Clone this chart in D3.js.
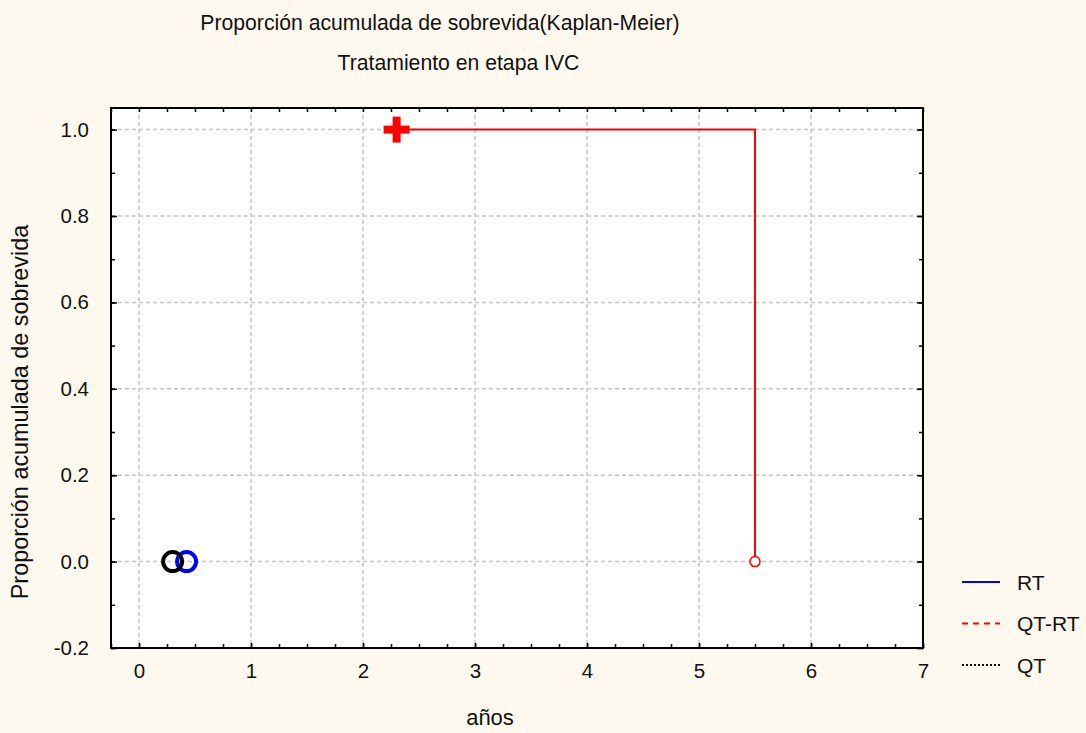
<!DOCTYPE html>
<html>
<head>
<meta charset="utf-8">
<script src="https://cdn.jsdelivr.net/npm/d3@7"></script>
<style>
  html, body { margin: 0; padding: 0; background: #fdf9ee; }
  svg { display: block; }
  text { font-family: "Liberation Sans", Arial, sans-serif; fill: #111; }
</style>
</head>
<body>
<svg id="chart" width="1086" height="733"></svg>
<script>
// Kaplan-Meier data per treatment group
const groups = ["RT", "QT-RT", "QT"];
const groupColors = ["#0000ff", "#ff0000", "#000000"];
const groupDash = ["", "6,5", "2,2"];

// QT-RT survival curve (step): time, proportion
const qtrtTimes = [2.3, 5.5];
const qtrtSurv = [1.0, 0.0];
// censored observation (cross)
const qtrtCensTime = [2.3];
const qtrtCensSurv = [1.0];
// complete (event) observation marker
const qtrtEventTime = [5.5];
const qtrtEventSurv = [0.0];

// single-event groups
const rtEventTime = [0.425];
const rtEventSurv = [0.0];
const qtEventTime = [0.3];
const qtEventSurv = [0.0];

const xTicks = [0, 1, 2, 3, 4, 5, 6, 7];
const yTicks = [-0.2, 0.0, 0.2, 0.4, 0.6, 0.8, 1.0];

const title1 = "Proporción acumulada de sobrevida(Kaplan-Meier)";
const title2 = "Tratamiento en etapa IVC";
const xLabel = "años";
const yLabel = "Proporción acumulada de sobrevida";

const FS = "20.5px";
const svg = d3.select("#chart");
const plot = { left: 111, right: 923, top: 108, bottom: 648 };

const x = d3.scaleLinear().domain([-0.25, 7]).range([plot.left, plot.right]);
const y = d3.scaleLinear().domain([-0.2, 1.05]).range([plot.bottom, plot.top]);

// plot background
svg.append("rect")
  .attr("x", plot.left).attr("y", plot.top)
  .attr("width", plot.right - plot.left).attr("height", plot.bottom - plot.top)
  .attr("fill", "#ffffff");

// grid
const grid = svg.append("g").attr("stroke", "#c4c4c4").attr("stroke-width", 1.5).attr("stroke-dasharray", "4,3");
xTicks.slice(0, -1).forEach(t => {
  grid.append("line").attr("x1", x(t)).attr("x2", x(t)).attr("y1", plot.top).attr("y2", plot.bottom);
});
yTicks.slice(1).forEach(t => {
  grid.append("line").attr("x1", plot.left).attr("x2", plot.right).attr("y1", y(t)).attr("y2", y(t));
});

// axes: inward ticks, major + minor on all four sides
const xMinor = d3.range(-0.25, 7.001, 0.25);
const yMinor = d3.range(-0.2, 1.05, 0.1);
const yFmt = d => d3.format(".1f")(d).replace("−", "-");

function styleAxis(g) {
  g.select(".domain").remove();
  g.selectAll("line").attr("stroke", "#000").attr("stroke-width", 1.5);
  g.selectAll("text").style("font-size", FS).style("font-family", "Liberation Sans, Arial, sans-serif").attr("fill", "#111");
}

svg.append("g").attr("transform", `translate(0,${plot.bottom})`)
  .call(d3.axisBottom(x).tickValues(xMinor).tickSize(-4).tickFormat(""))
  .call(styleAxis);
svg.append("g").attr("transform", `translate(0,${plot.bottom})`)
  .call(d3.axisBottom(x).tickValues(xTicks).tickSize(-5).tickPadding(15).tickFormat(d3.format("d")))
  .call(styleAxis);
svg.append("g").attr("transform", `translate(0,${plot.top})`)
  .call(d3.axisTop(x).tickValues(xMinor).tickSize(-4).tickFormat(""))
  .call(styleAxis);

svg.append("g").attr("transform", `translate(${plot.left},0)`)
  .call(d3.axisLeft(y).tickValues(yMinor).tickSize(-4).tickFormat(""))
  .call(styleAxis);
svg.append("g").attr("transform", `translate(${plot.left},0)`)
  .call(d3.axisLeft(y).tickValues(yTicks).tickSize(-6).tickPadding(22).tickFormat(yFmt))
  .call(styleAxis);
svg.append("g").attr("transform", `translate(${plot.right},0)`)
  .call(d3.axisRight(y).tickValues(yMinor).tickSize(-4).tickFormat(""))
  .call(styleAxis);
svg.append("g").attr("transform", `translate(${plot.right},0)`)
  .call(d3.axisRight(y).tickValues(yTicks).tickSize(-6).tickFormat(""))
  .call(styleAxis);

// frame
svg.append("rect")
  .attr("x", plot.left).attr("y", plot.top)
  .attr("width", plot.right - plot.left).attr("height", plot.bottom - plot.top)
  .attr("fill", "none").attr("stroke", "#000").attr("stroke-width", 2);

// QT-RT step curve
const stepData = [[qtrtTimes[0], qtrtSurv[0]], [qtrtTimes[1], qtrtSurv[0]], [qtrtTimes[1], qtrtSurv[1]]];
svg.append("path")
  .attr("d", d3.line().x(d => x(d[0])).y(d => y(d[1]))(stepData))
  .attr("fill", "none").attr("stroke", groupColors[1]).attr("stroke-width", 2);

// censored cross
qtrtCensTime.forEach((t, i) => {
  const cx = x(t), cy = y(qtrtCensSurv[i]);
  const c = svg.append("g").attr("transform", `translate(${cx},${cy})`)
    .attr("stroke", groupColors[1]).attr("stroke-width", 8);
  c.append("line").attr("x1", -13).attr("x2", 13);
  c.append("line").attr("y1", -13).attr("y2", 13);
});

// event markers
qtrtEventTime.forEach((t, i) => {
  svg.append("circle").attr("cx", x(t)).attr("cy", y(qtrtEventSurv[i])).attr("r", 5)
    .attr("fill", "#fff").attr("stroke", groupColors[1]).attr("stroke-width", 1.5);
});
rtEventTime.forEach((t, i) => {
  svg.append("circle").attr("cx", x(t)).attr("cy", y(rtEventSurv[i])).attr("r", 9.5)
    .attr("fill", "none").attr("stroke", groupColors[0]).attr("stroke-width", 4);
});
qtEventTime.forEach((t, i) => {
  svg.append("circle").attr("cx", x(t)).attr("cy", y(qtEventSurv[i])).attr("r", 9.5)
    .attr("fill", "none").attr("stroke", groupColors[2]).attr("stroke-width", 4);
});

// titles
svg.append("text").attr("x", 440).attr("y", 30).attr("text-anchor", "middle")
  .style("font-size", "21.2px").text(title1);
svg.append("text").attr("x", 458.5).attr("y", 70).attr("text-anchor", "middle")
  .style("font-size", "21.2px").text(title2);
svg.append("text").attr("x", 490).attr("y", 725).attr("text-anchor", "middle")
  .style("font-size", "22px").text(xLabel);
svg.append("text").attr("transform", "translate(28,412) rotate(-90)").attr("text-anchor", "middle")
  .style("font-size", "23.4px").text(yLabel);

// legend
const legend = svg.append("g");
groups.forEach((g, i) => {
  const ly = 582 + i * 41.5;
  legend.append("line").attr("x1", 962).attr("x2", 1000).attr("y1", ly).attr("y2", ly)
    .attr("stroke", groupColors[i]).attr("stroke-width", 2).attr("stroke-dasharray", groupDash[i]);
  legend.append("text").attr("x", 1017).attr("y", ly + 7.5).style("font-size", "21px").text(g);
});
</script>
</body>
</html>
